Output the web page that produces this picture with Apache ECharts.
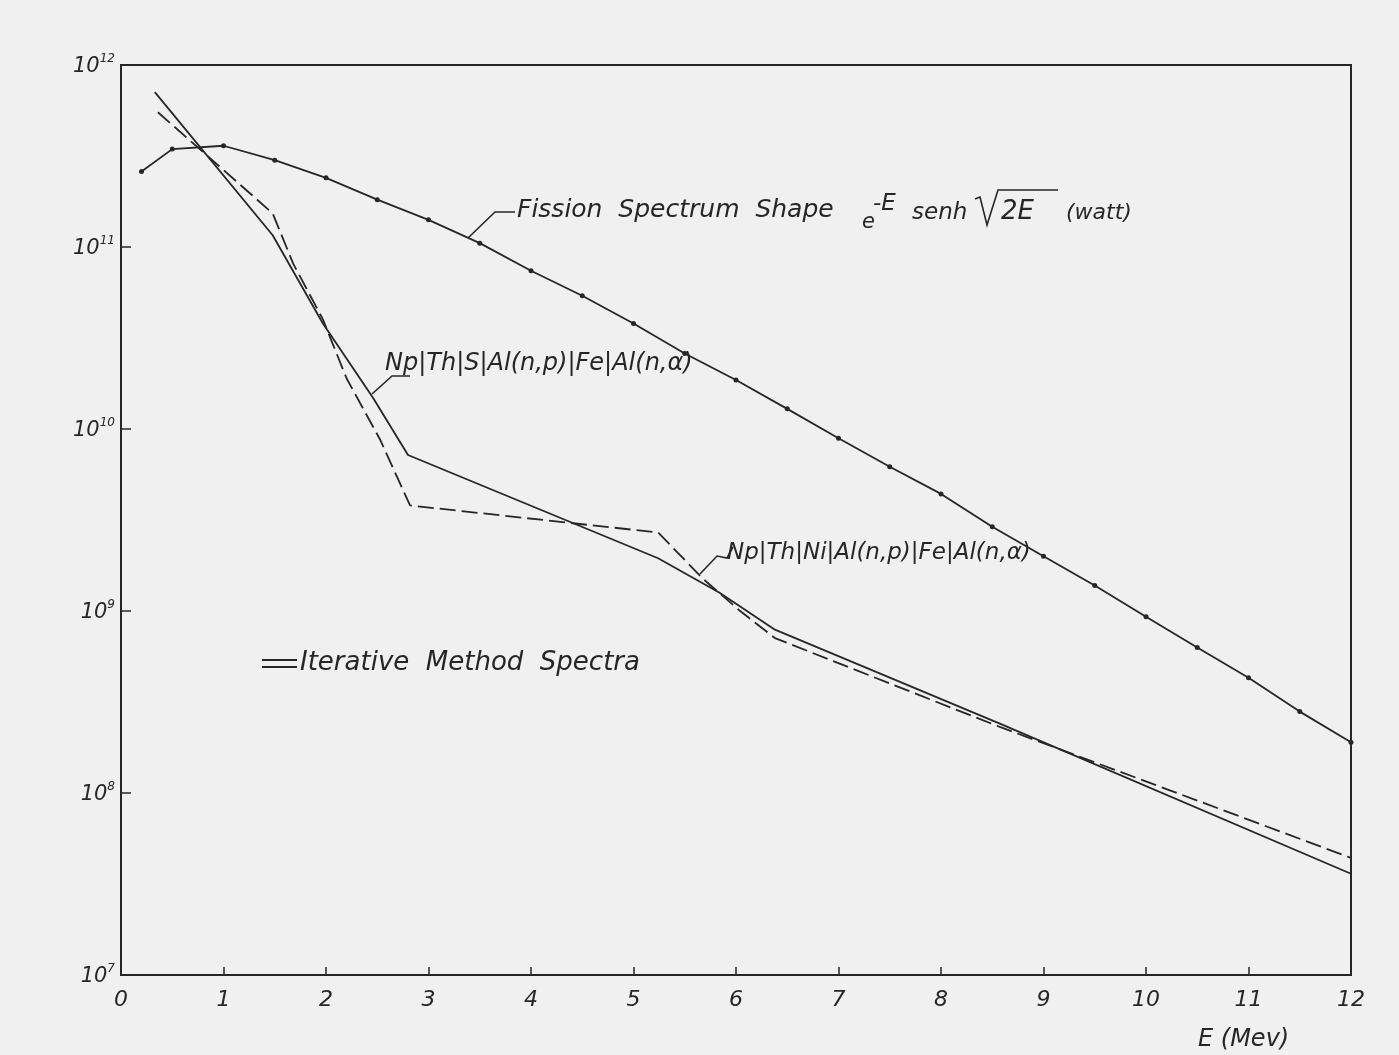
<!DOCTYPE html>
<html lang="en">
<head>
    <meta charset="UTF-8">
    <title>Iterative method spectra</title>
    <script src="https://cdn.jsdelivr.net/npm/echarts@6/dist/echarts.min.js"></script>
    <style>
        html, body { margin: 0; padding: 0; background: #f0f0f0; }
        #main { width: 1399px; height: 1055px; }
    </style>
</head>
<body>
    <div id="main"></div>
    <script>
        // fission spectrum shape e^-E senh sqrt(2E) (watt)
        var fissionE = [0.2, 0.5, 1, 1.5, 2, 2.5, 3, 3.5, 4, 4.5, 5, 5.5, 6, 6.5, 7, 7.5, 8, 8.5, 9, 9.5, 10, 10.5, 11, 11.5, 12];
        var fissionFlux = [2.6e11, 3.45e11, 3.6e11, 3.0e11, 2.4e11, 1.82e11, 1.41e11, 1.05e11, 7.4e10, 5.4e10, 3.8e10, 2.6e10, 1.86e10,
            1.29e10, 8.9e9, 6.2e9, 4.4e9, 2.9e9, 2.0e9, 1.38e9, 9.3e8, 6.3e8, 4.3e8, 2.8e8, 1.9e8];

        // Np|Th|S|Al(n,p)|Fe|Al(n,a)  (solid)
        var sE = [0.33, 1.48, 1.97, 2.46, 2.8, 5.24, 5.84, 6.38, 8.58, 12];
        var sFlux = [7.1e11, 1.16e11, 3.8e10, 1.48e10, 7.2e9, 1.95e9, 1.26e9, 7.9e8, 2.4e8, 3.6e7];

        // Np|Th|Ni|Al(n,p)|Fe|Al(n,a)  (dashed)
        var niE = [0.36, 1.48, 1.68, 1.97, 2.2, 2.53, 2.82, 5.24, 5.68, 6.04, 6.38, 8.58, 12];
        var niFlux = [5.5e11, 1.53e11, 8.1e10, 4.0e10, 1.9e10, 8.7e9, 3.8e9, 2.7e9, 1.5e9, 1.0e9, 7.1e8, 2.3e8, 4.4e7];

        var xTicks = ['0', '1', '2', '3', '4', '5', '6', '7', '8', '9', '10', '11', '12'];

        function pairs(xs, ys) {
            return xs.map(function (x, i) { return [x, ys[i]]; });
        }

        var ink = '#262626';
        var fam = 'DejaVu Sans';

        function txt(text, x, y, size, extra) {
            var st = {
                text: text, x: x, y: y,
                fontSize: size, fontStyle: 'italic', fontFamily: fam,
                fill: ink, align: 'left', verticalAlign: 'middle'
            };
            return { type: 'text', silent: true, style: Object.assign(st, extra || {}) };
        }
        function leader(points) {
            return { type: 'polyline', silent: true, shape: { points: points }, style: { stroke: ink, lineWidth: 1.6, fill: null } };
        }

        var myChart = echarts.init(document.getElementById('main'));
        var option = {
            backgroundColor: '#f0f0f0',
            animation: false,
            grid: {
                left: 121, right: 48, top: 65, bottom: 80,
                show: true, borderColor: ink, borderWidth: 2, backgroundColor: 'transparent'
            },
            xAxis: {
                type: 'value',
                min: 0, max: 12, interval: 1,
                axisLine: { lineStyle: { color: ink, width: 2 } },
                axisTick: { inside: true, length: 8, lineStyle: { color: ink, width: 1.5 } },
                splitLine: { show: false },
                axisLabel: {
                    margin: 14, color: ink, fontSize: 22, fontStyle: 'italic', fontFamily: fam,
                    formatter: function (v) { return xTicks[v]; }
                }
            },
            yAxis: {
                type: 'log',
                logBase: 10,
                min: 1e7, max: 1e12,
                axisLine: { show: true, lineStyle: { color: ink, width: 2 } },
                axisTick: { show: true, inside: true, length: 10, lineStyle: { color: ink, width: 1.5 } },
                splitLine: { show: false },
                minorTick: { show: false },
                axisLabel: {
                    margin: 6, color: ink,
                    formatter: function (v) {
                        var p = Math.round(Math.log10(v));
                        return '{b|10}{s|' + p + '}';
                    },
                    rich: {
                        b: { fontSize: 21, fontStyle: 'italic', fontFamily: fam, color: ink, verticalAlign: 'bottom', lineHeight: 24 },
                        s: { fontSize: 12, fontStyle: 'italic', fontFamily: fam, color: ink, verticalAlign: 'top', lineHeight: 24, padding: [0, 0, 10, 0] }
                    }
                }
            },
            series: [
                {
                    name: 'Fission Spectrum Shape',
                    type: 'line',
                    data: pairs(fissionE, fissionFlux),
                    symbol: 'circle', symbolSize: 5,
                    itemStyle: { color: ink },
                    lineStyle: { color: ink, width: 1.8 }
                },
                {
                    name: 'Np|Th|S|Al(n,p)|Fe|Al(n,α)',
                    type: 'line',
                    data: pairs(sE, sFlux),
                    showSymbol: false,
                    lineStyle: { color: ink, width: 1.8 }
                },
                {
                    name: 'Np|Th|Ni|Al(n,p)|Fe|Al(n,α)',
                    type: 'line',
                    data: pairs(niE, niFlux),
                    showSymbol: false,
                    lineStyle: { color: ink, width: 1.8, type: [16, 6] }
                }
            ],
            graphic: [
                // curve labels
                txt('Fission  Spectrum  Shape', 517, 210, 25),
                txt('e', 862, 223, 21),
                txt('-E', 873, 204, 23),
                txt('senh', 912, 213, 23),
                leader([[975, 199], [980, 197], [987, 225], [998, 190], [1058, 190]]),
                txt('2E', 1001, 212, 26),
                txt('(watt)', 1066, 213, 22),
                leader([[515, 212], [495, 212], [468, 238]]),
                txt('Np|Th|S|Al(n,p)|Fe|Al(n,α)', 385, 364, 24),
                leader([[410, 376], [392, 376], [372, 394]]),
                txt('Np|Th|Ni|Al(n,p)|Fe|Al(n,α)', 727, 553, 23),
                leader([[733, 547], [727, 558], [717, 556], [700, 574]]),
                // legend
                { type: 'line', silent: true, shape: { x1: 262, y1: 660, x2: 297, y2: 660 }, style: { stroke: ink, lineWidth: 2 } },
                { type: 'line', silent: true, shape: { x1: 262, y1: 667, x2: 297, y2: 667 }, style: { stroke: ink, lineWidth: 2 } },
                txt('Iterative  Method  Spectra', 300, 663, 26),
                // axis name
                txt('E (Mev)', 1198, 1040, 24)
            ]
        };
        myChart.setOption(option);
    </script>
</body>
</html>
